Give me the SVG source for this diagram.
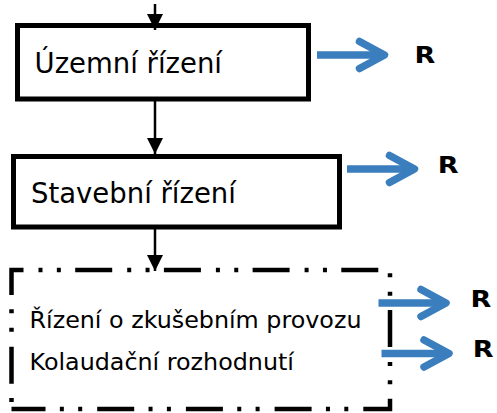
<svg xmlns="http://www.w3.org/2000/svg" width="497" height="413" viewBox="0 0 497 413">
<style>
.box{fill:#fff;stroke:#000;stroke-width:5}
.dd{fill:none;stroke:#000;stroke-width:4.5;stroke-dasharray:37 15 4 14.35 4 14.35;stroke-linecap:butt}
.t1{font-family:"DejaVu Sans",Verdana,sans-serif;font-size:27.5px;fill:#000}
.t2{font-family:"DejaVu Sans",Verdana,sans-serif;font-size:23.8px;fill:#000}
.r{font-family:"DejaVu Sans",Verdana,sans-serif;font-size:23.5px;font-weight:bold;fill:#000}
.blk{fill:none;stroke:#000;stroke-width:2.5}
.blue{fill:none;stroke:#3A7EBE;stroke-width:7.5;stroke-linecap:round;stroke-linejoin:round}
</style>
<defs>
<marker id="ah" markerUnits="userSpaceOnUse" markerWidth="16" markerHeight="16" viewBox="0 0 15 15" refX="15" refY="7.5" orient="auto">
<path d="M0,0 L15,7.5 L0,15 z" fill="#000"/>
</marker>
<g id="ba">
<path class="blue" style="stroke-linecap:butt" d="M-72,0 H-6"/>
<path class="blue" d="M-29.5,-13.5 L-4.5,0 L-29.5,13.5"/>
</g>
</defs>
<g id="node-uzemni">
<rect class="box" x="17.5" y="25.5" width="291" height="73.5"/>
<text class="t1" x="34.5" y="73">Územní řízení</text>
</g>
<g id="node-stavebni">
<rect class="box" x="13.5" y="156.5" width="326" height="70.5"/>
<text class="t1" x="31" y="202.5">Stavební řízení</text>
</g>
<g id="node-kolaudace">
<path class="dd" style="stroke-dashoffset:-114" d="M11.5,409 V270 H390 V409 Z"/>
<text class="t2" x="29.5" y="327.7">Řízení o zkušebním provozu</text>
<text class="t2" x="29.5" y="370">Kolaudační rozhodnutí</text>
</g>
<g id="node-r1"><text class="r" transform="translate(414.4,63) scale(1.15,1)">R</text></g>
<g id="node-r2"><text class="r" transform="translate(437.7,172.8) scale(1.15,1)">R</text></g>
<g id="node-r3"><text class="r" transform="translate(470.4,307.3) scale(1.15,1)">R</text></g>
<g id="node-r4"><text class="r" transform="translate(472.7,356.8) scale(1.15,1)">R</text></g>
<g id="connectors">
<line class="blk" x1="155" y1="4" x2="155" y2="30" marker-end="url(#ah)"/>
<line class="blk" x1="155" y1="101" x2="155" y2="154" marker-end="url(#ah)"/>
<line class="blk" x1="155" y1="229" x2="155" y2="271" marker-end="url(#ah)"/>
<use href="#ba" transform="translate(389,55)"/>
<use href="#ba" transform="translate(419,169)"/>
<use href="#ba" transform="translate(450.5,303)"/>
<use href="#ba" transform="translate(453.5,353.5)"/>
</g>
</svg>
